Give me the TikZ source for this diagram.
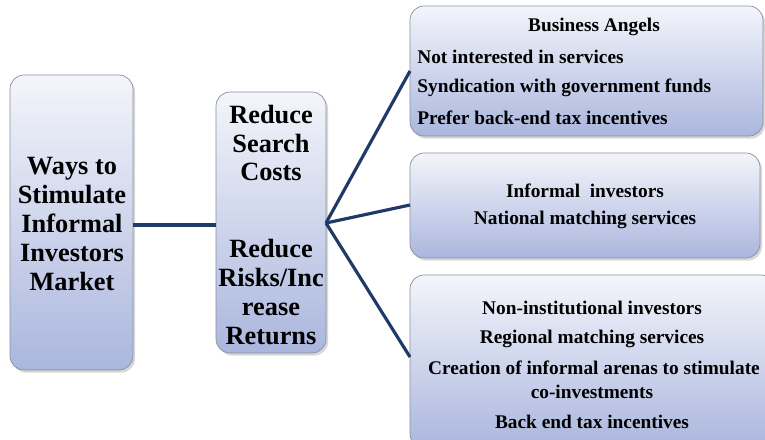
\documentclass[tikz,border=0pt]{standalone}
\usepackage{fontspec}
\setmainfont{Liberation Serif}[BoldFont={Liberation Serif Bold}]
\usetikzlibrary{shadows}
\definecolor{boxtop}{HTML}{F4F5FB}
\definecolor{boxbot}{HTML}{AAB6DD}
\definecolor{boxline}{HTML}{8A8F9C}
\definecolor{linkcol}{HTML}{1F3A66}
\tikzset{
  box/.style={draw=boxline, rounded corners=8pt, top color=boxtop, bottom color=boxbot,
    drop shadow={shadow xshift=1.2pt, shadow yshift=-1.5pt, fill=black!30}},
  link/.style={linkcol, line width=1.8pt},
  bigtxt/.style={font=\fontsize{15}{16.4}\selectfont\bfseries, align=center, inner sep=0pt},
  smalltxt/.style={font=\fontsize{11}{13.4}\selectfont\bfseries, inner sep=0pt}
}
\begin{document}
\begin{tikzpicture}[x=0.02cm, y=-0.02cm]
  \useasboundingbox (0,0) rectangle (765,440);
  \clip (0,0) rectangle (765,440);
  % boxes
  \path[box] (10,75) rectangle (133,370);
  \path[box] (216,92) rectangle (326,353);
  \path[box] (410,6) rectangle (763,136);
  \path[box] (410,153) rectangle (760,258);
  \path[box] (410,275) rectangle (775,448);
  \coordinate (ways) at (133,225);
  \coordinate (reducein) at (216,225);
  \coordinate (fan) at (326,223);
  \coordinate (angels) at (410,71);
  \coordinate (informal) at (410,205);
  \coordinate (noninst) at (410,357);
  % connectors
  \draw[link] (ways) -- (reducein);
  \draw[link] (fan) -- (angels);
  \draw[link] (fan) -- (informal);
  \draw[link] (fan) -- (noninst);
  % left and middle texts
  \node[bigtxt] (waystxt) at (72,224) {Ways to\\Stimulate\\Informal\\Investors\\Market};
  \node[bigtxt] (searchtxt) at (271,143) {Reduce\\Search\\Costs};
  \node[bigtxt] (riskstxt) at (271,292) {Reduce\\Risks/Inc\\rease\\Returns};
  % top right
  \node[smalltxt] (angtitle) at (594,27) {Business Angels};
  \node[smalltxt, anchor=west] (ang1) at (417,57) {Not interested in services};
  \node[smalltxt, anchor=west] (ang2) at (417,88) {Syndication with government funds};
  \node[smalltxt, anchor=west] (ang3) at (417,118) {Prefer back-end tax incentives};
  % middle right
  \node[smalltxt] (inf1) at (585,191) {Informal\ \ investors};
  \node[smalltxt] (inf2) at (585,220) {National matching services};
  % bottom right
  \node[smalltxt] (non1) at (592,308) {Non-institutional investors};
  \node[smalltxt] (non2) at (592,339) {Regional matching services};
  \node[smalltxt] (non3) at (594,368) {Creation of informal arenas to stimulate};
  \node[smalltxt] (non4) at (592,392) {co-investments};
  \node[smalltxt] (non5) at (592,422) {Back end tax incentives};
\end{tikzpicture}
\end{document}
